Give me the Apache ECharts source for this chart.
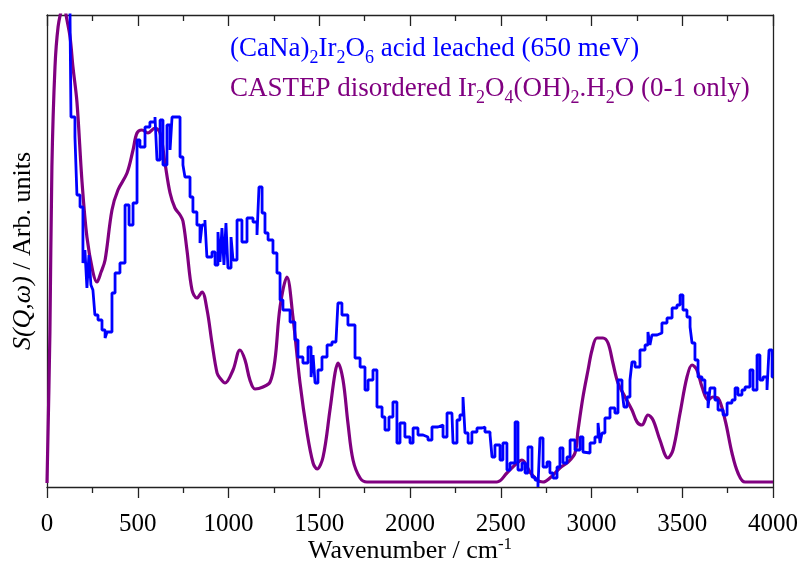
<!DOCTYPE html>
<html><head><meta charset="utf-8">
<script src="https://cdn.jsdelivr.net/npm/echarts@6/dist/echarts.min.js"></script>
<style>html,body{margin:0;padding:0;background:#fff}#c{width:802px;height:564px}</style>
</head><body><div id="c"></div>
<script>
// X axis ticks (wavenumber, cm^-1)
const xTicks = [0, 500, 1000, 1500, 2000, 2500, 3000, 3500, 4000];

// Experimental: (CaNa)2Ir2O6 acid leached (650 meV) — stepped histogram
const blueWn = [95,127,132,154,165,182,198,209,220,231,242,253,264,281,303,320,331,358,375,402,430,452,474,496,512,540,567,595,606,623,639,661,678,689,733,749,760,788,804,826,843,854,870,881,909,926,942,953,964,975,986,997,1014,1025,1047,1074,1102,1135,1157,1168,1185,1201,1218,1245,1267,1284,1300,1339,1366,1383,1410,1438,1455,1466,1477,1493,1515,1543,1570,1592,1603,1625,1658,1697,1725,1752,1769,1796,1818,1846,1862,1884,1906,1928,1945,1972,2000,2017,2044,2072,2099,2121,2154,2182,2204,2231,2237,2259,2275,2292,2303,2320,2341,2369,2397,2413,2441,2452,2468,2496,2512,2534,2551,2579,2595,2617,2634,2650,2672,2689,2705,2716,2733,2755,2771,2788,2810,2826,2843,2865,2882,2909,2937,2953,2964,2992,3019,3036,3047,3058,3074,3102,3129,3146,3168,3179,3196,3212,3223,3240,3267,3295,3311,3322,3333,3361,3388,3416,3444,3471,3488,3504,3526,3543,3554,3570,3587,3609,3625,3642,3653,3680,3697,3725,3747,3774,3791,3807,3829,3846,3873,3890,3912,3928,3945,3967,3978,3995,4000];
const blueVal = [485,467,370,350,292,280,224,237,199,232,202,197,172,167,157,149,155,194,214,224,282,262,284,347,340,360,365,370,327,367,322,362,337,370,330,322,310,290,275,262,244,262,267,230,235,222,255,225,259,222,264,219,250,227,267,245,269,265,252,300,274,254,247,234,214,187,177,165,147,130,124,140,110,132,104,117,130,142,145,147,184,172,162,129,120,97,107,117,80,70,57,70,85,44,64,50,44,59,52,50,47,60,62,50,74,72,44,67,72,90,54,44,55,59,60,55,52,30,42,27,44,17,24,65,17,24,14,40,10,7,0,49,20,25,14,9,20,39,24,30,47,37,50,35,34,44,50,64,44,54,69,79,74,107,97,80,90,107,125,120,137,142,155,142,152,154,164,169,179,182,192,177,170,160,144,127,110,107,94,79,99,87,77,72,84,87,99,92,97,100,117,97,132,107,110,97,137,110,110];

// CASTEP disordered Ir2O4(OH)2.H2O (0-1 only) — smooth calculated spectrum
const purpleWn = [0,16,27,44,61,83,95,105,127,143,165,193,220,253,275,298,320,358,391,441,474,496,523,556,595,623,650,678,705,733,749,771,799,826,854,882,909,937,953,981,1025,1063,1091,1118,1146,1190,1229,1256,1284,1322,1355,1394,1433,1466,1488,1521,1559,1587,1603,1631,1658,1686,1725,1763,2479,2534,2590,2617,2661,2700,2733,2771,2826,2871,2909,2926,2953,2981,3003,3030,3063,3091,3118,3146,3185,3223,3251,3278,3311,3339,3377,3421,3449,3488,3526,3554,3581,3609,3642,3669,3697,3736,3774,3807,3846,4000];
const purpleVal = [4,154,320,420,460,480,485,472,450,420,385,305,250,215,205,215,227,277,297,314,337,354,357,354,359,354,324,294,279,272,266,237,197,189,195,177,144,114,109,104,117,137,127,107,98,100,105,127,180,210,170,104,54,24,18,30,77,114,124,107,64,27,9,5,5,14,24,27,15,7,5,9,19,25,34,57,90,117,137,149,149,144,124,104,90,77,65,62,72,67,47,29,37,74,110,122,117,100,87,90,89,67,34,14,5,5];

const FONT = 'Liberation Serif';
const BLUE = '#0000ff';
const PURPLE = '#800080';

const chart = echarts.init(document.getElementById('c'), null, {renderer: 'canvas'});
const axisLineStyle = {color: '#222', width: 1.3};

chart.setOption({
  animation: false,
  backgroundColor: '#fff',
  grid: {left: 47, right: 29, top: 15, bottom: 77, containLabel: false, outerBoundsMode: 'none'},
  xAxis: [
    {
      type: 'value', position: 'bottom', min: 0, max: 4000, interval: 500,
      axisLine: {show: true, onZero: false, lineStyle: axisLineStyle},
      axisTick: {show: true, inside: false, length: 11, lineStyle: axisLineStyle},
      minorTick: {show: true, splitNumber: 2, length: 6, lineStyle: axisLineStyle},
      splitLine: {show: false},
      axisLabel: {show: true, margin: 25, color: '#000', fontFamily: FONT, fontSize: 25,
        formatter: v => xTicks.includes(v) ? String(v) : ''},
      name: 'Wavenumber / cm{sup|-1}', nameLocation: 'middle', nameGap: 49, nameMoveOverlap: false,
      nameTextStyle: {color: '#000', fontFamily: FONT, fontSize: 26,
        rich: {sup: {fontFamily: FONT, fontSize: 17, color: '#000', padding: [0, 0, 14, 0]}}}
    },
    {
      type: 'value', position: 'top', min: 0, max: 4000, interval: 500,
      axisLine: {show: true, onZero: false, lineStyle: axisLineStyle},
      axisTick: {show: true, inside: true, length: 11, lineStyle: axisLineStyle},
      minorTick: {show: true, splitNumber: 2, length: 6, lineStyle: axisLineStyle},
      splitLine: {show: false},
      axisLabel: {show: false}
    }
  ],
  yAxis: [
    {
      type: 'value', position: 'left', min: 0, max: 472,
      axisLine: {show: true, onZero: false, lineStyle: axisLineStyle},
      axisTick: {show: false}, axisLabel: {show: false}, splitLine: {show: false},
      name: '{it|S(Q,ω)} / Arb. units', nameLocation: 'middle', nameGap: 11, nameRotate: 90,
      nameMoveOverlap: false,
      nameTextStyle: {color: '#000', fontFamily: FONT, fontSize: 26,
        rich: {it: {fontFamily: FONT, fontSize: 26, fontStyle: 'italic', color: '#000'}}}
    },
    {
      type: 'value', position: 'right', min: 0, max: 472,
      axisLine: {show: true, onZero: false, lineStyle: axisLineStyle},
      axisTick: {show: false}, axisLabel: {show: false}, splitLine: {show: false}
    }
  ],
  series: [
    {
      type: 'line', name: 'CASTEP', xAxisIndex: 0, yAxisIndex: 0,
      data: purpleWn.map((w, i) => [w, purpleVal[i]]),
      smooth: 0.35, showSymbol: false, clip: true,
      lineStyle: {color: PURPLE, width: 3.2}, z: 2
    },
    {
      type: 'line', name: 'Experiment', xAxisIndex: 0, yAxisIndex: 0,
      data: blueWn.map((w, i) => [w, blueVal[i]]),
      step: 'end', showSymbol: false, clip: true,
      lineStyle: {color: BLUE, width: 2.8}, z: 3
    }
  ],
  graphic: [
    {
      type: 'text', left: 230, top: 35, z: 10,
      style: {
        text: '(CaNa){s|2}Ir{s|2}O{s|6} acid leached (650 meV)',
        fill: BLUE, fontFamily: FONT, fontSize: 27,
        rich: {s: {fontFamily: FONT, fontSize: 18, fill: BLUE, padding: [20, 0, 0, 0]}}
      }
    },
    {
      type: 'text', left: 230, top: 75, z: 10,
      style: {
        text: 'CASTEP disordered Ir{s|2}O{s|4}(OH){s|2}.H{s|2}O (0-1 only)',
        fill: PURPLE, fontFamily: FONT, fontSize: 27,
        rich: {s: {fontFamily: FONT, fontSize: 18, fill: PURPLE, padding: [20, 0, 0, 0]}}
      }
    }
  ]
});
</script>
</body></html>
